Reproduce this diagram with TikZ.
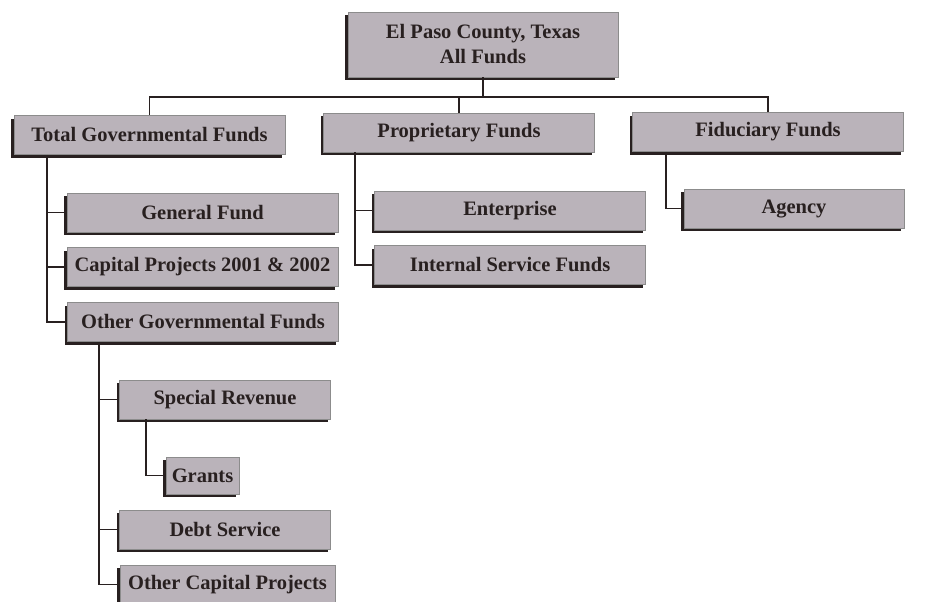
\documentclass[tikz,border=0pt]{standalone}
\usepackage{fontspec}
\setmainfont{Liberation Serif}
\usetikzlibrary{shadows}
\definecolor{boxgray}{RGB}{186,179,186}
\definecolor{inkdark}{RGB}{40,32,32}
\begin{document}
\begin{tikzpicture}[x=1pt, y=-1pt, every node/.style = {shape=rectangle, draw=black!45, line width=0.6pt, fill=boxgray, text=inkdark, align=center, inner sep=0pt, font=\bfseries\fontsize{20.5}{25}\selectfont, drop shadow={shadow xshift=-3pt, shadow yshift=-3pt, fill=inkdark, opacity=1}}]
	\tikzstyle{wide} = [minimum width=271pt, minimum height=39pt]
	\tikzstyle{mid} = [minimum width=211pt, minimum height=39pt]
	\tikzstyle{link} = [draw=inkdark, line width=1.7pt]
	\useasboundingbox (0,0) rectangle (945,602);
	\clip (0,0) rectangle (945,602);
	% top level
	\node[minimum width=270pt, minimum height=65pt] (top) at (483,44.5) {El Paso County, Texas\\All Funds};
	\node[wide] (tgf) at (149.5,135) {Total Governmental Funds};
	\node[wide] (pf) at (459,132.5) {Proprietary Funds};
	\node[wide] (ff) at (768,132) {Fiduciary Funds};
	% second level
	\node[wide] (gf) at (202.5,212.5) {General Fund};
	\node[wide] (cp) at (202.5,267) {Capital Projects 2001 \& 2002};
	\node[wide] (ogf) at (203,322) {Other Governmental Funds};
	\node[wide] (ent) at (510,210.5) {Enterprise};
	\node[wide] (isf) at (510,265) {Internal Service Funds};
	\node[mid, minimum width=220pt] (ag) at (794,208.5) {Agency};
	% third level
	\node[mid] (sr) at (225,399.5) {Special Revenue};
	\node[minimum width=73pt, minimum height=37pt] (gr) at (202.5,475.5) {Grants};
	\node[mid] (ds) at (225,529.5) {Debt Service};
	\node[mid, minimum width=215pt] (ocp) at (227.5,584.5) {Other Capital Projects};
	% connectors
	\coordinate (bus) at ([yshift=-20pt]top.south);
	\draw[link] (top.south) -- (bus);
	\draw[link] (tgf.north) |- (bus) -| (ff.north);
	\draw[link] (bus -| pf.north) -- (pf.north);
	\coordinate (tgfspine) at ([xshift=33pt]tgf.south west);
	\draw[link] (tgfspine) |- (ogf.west);
	\draw[link] (tgfspine |- gf.west) -- (gf.west);
	\draw[link] (tgfspine |- cp.west) -- (cp.west);
	\coordinate (pfspine) at ([xshift=32pt]pf.south west);
	\draw[link] (pfspine) |- (isf.west);
	\draw[link] (pfspine |- ent.west) -- (ent.west);
	\coordinate (ffspine) at ([xshift=34pt]ff.south west);
	\draw[link] (ffspine) |- (ag.west);
	\coordinate (ogfspine) at ([xshift=32pt]ogf.south west);
	\draw[link] (ogfspine) |- (ocp.west);
	\draw[link] (ogfspine |- sr.west) -- (sr.west);
	\draw[link] (ogfspine |- ds.west) -- (ds.west);
	\coordinate (srspine) at ([xshift=27pt]sr.south west);
	\draw[link] (srspine) |- (gr.west);
\end{tikzpicture}
\end{document}
